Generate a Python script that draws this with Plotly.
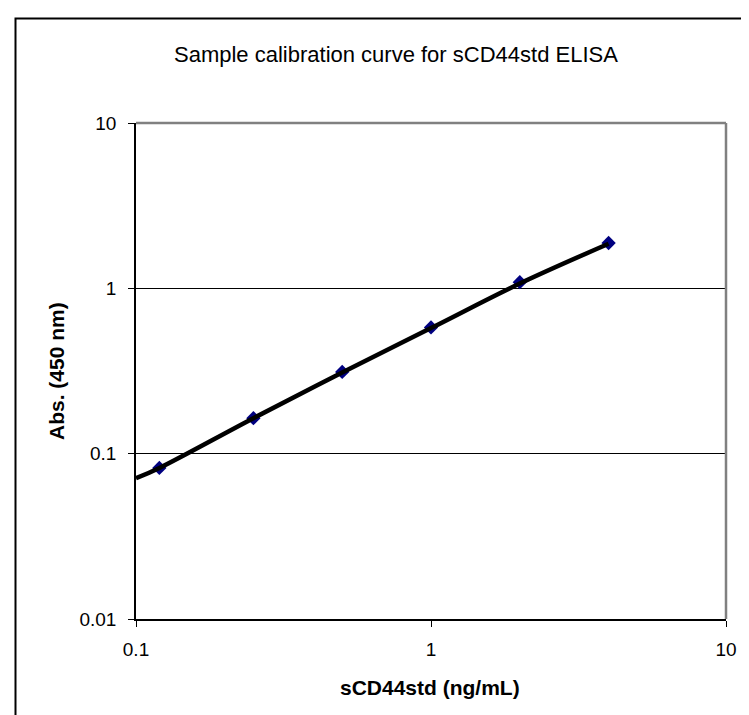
import plotly.graph_objects as go

# Data
conc = [0.12, 0.25, 0.5, 1, 2, 4]            # sCD44std (ng/mL)
absorb = [0.082, 0.164, 0.312, 0.58, 1.09, 1.88]  # Abs. (450 nm)

# Fitted calibration curve
curve_x = [0.1, 0.12, 0.25, 0.5, 1, 2, 4]
curve_y = [0.071, 0.082, 0.164, 0.31, 0.575, 1.07, 1.86]

x_ticks = [0.1, 1, 10]
x_ticklabels = ["0.1", "1", "10"]
y_ticks = [0.01, 0.1, 1, 10]
y_ticklabels = ["0.01", "0.1", "1", "10"]

title_text = "Sample calibration curve for sCD44std ELISA"
x_title = "sCD44std (ng/mL)"
y_title = "Abs. (450 nm)"

FONT = "Liberation Sans, Arial, sans-serif"

W, H = 749, 715
L, R, T, B = 128, 31, 115, 104
pw = W - L - R
ph = H - T - B

def px(p):
    return (p - L) / pw

def py(p):
    return (H - B - p) / ph

fig = go.Figure()
fig.add_trace(go.Scatter(
    x=conc, y=absorb, mode="markers",
    marker=dict(symbol="diamond", size=11, color="#000080",
                line=dict(width=0)),
    showlegend=False, hoverinfo="x+y"))
fig.add_trace(go.Scatter(
    x=curve_x, y=curve_y, mode="lines",
    line=dict(color="black", width=4.5, shape="spline"),
    showlegend=False, hoverinfo="skip"))

fig.update_layout(
    width=W, height=H,
    margin=dict(l=L, r=R, t=T, b=B, autoexpand=False),
    paper_bgcolor="white", plot_bgcolor="white",
    font=dict(family=FONT, color="black", size=19),
    xaxis=dict(type="log", range=[-1, 1], tickvals=x_ticks, ticktext=x_ticklabels,
               showgrid=False, zeroline=False, showline=True, linecolor="black",
               linewidth=1.5, ticks="outside", ticklen=6, tickcolor="black",
               tickwidth=1, tickfont=dict(size=19), ticklabelstandoff=6),
    yaxis=dict(type="log", range=[-2, 1], tickvals=y_ticks, ticktext=y_ticklabels,
               showgrid=True, gridcolor="black", gridwidth=1, zeroline=False,
               showline=True, linecolor="black", linewidth=1.5, ticks="outside",
               ticklen=6, tickcolor="black", tickwidth=1,
               tickfont=dict(size=19), ticklabelstandoff=8),
    shapes=[
        dict(type="line", xref="paper", yref="paper", x0=0, x1=1, y0=1, y1=1,
             line=dict(color="#808080", width=2.5)),
        dict(type="line", xref="paper", yref="paper", x0=1, x1=1, y0=0, y1=1,
             line=dict(color="#808080", width=2.5)),
        dict(type="rect", xref="paper", yref="paper",
             x0=px(7.5), x1=px(770), y0=py(740), y1=py(10.5),
             line=dict(color="black", width=2), layer="below"),
    ],
    annotations=[
        dict(text=title_text, xref="paper", yref="paper", x=px(388), y=py(47),
             showarrow=False, font=dict(size=22), xanchor="center", yanchor="middle"),
        dict(text="<b>" + x_title + "</b>", xref="paper", yref="paper",
             x=px(422), y=py(679), showarrow=False, font=dict(size=21),
             xanchor="center", yanchor="middle"),
        dict(text="<b>" + y_title + "</b>", xref="paper", yref="paper",
             x=px(48), y=py(363), showarrow=False, font=dict(size=21),
             textangle=-90, xanchor="center", yanchor="middle"),
    ],
)

fig.write_html("out.html")
